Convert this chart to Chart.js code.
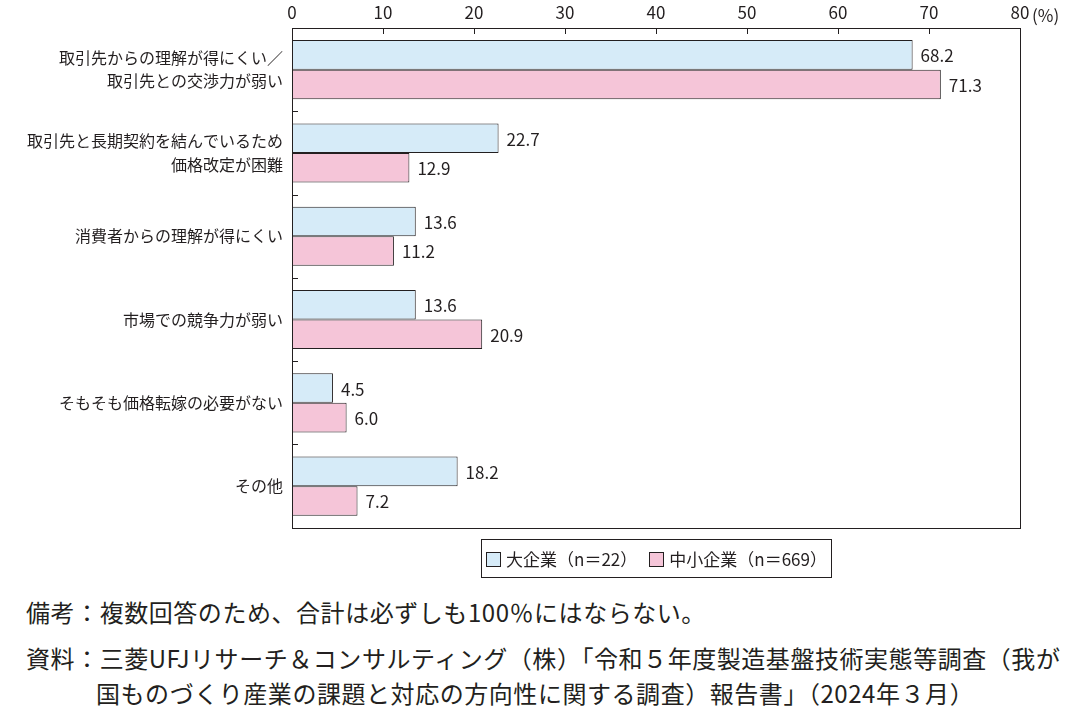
<!DOCTYPE html>
<html lang="ja">
<head>
<meta charset="utf-8">
<script src="https://cdn.jsdelivr.net/npm/chart.js@4/dist/chart.umd.min.js"></script>
<style>
  body { margin: 0; background: #fff; font-family: "Noto Sans CJK JP", sans-serif; color: #231f20; }
  #wrap { position: relative; width: 1084px; height: 723px; }
  #chart { position: absolute; left: 0; top: 0; }
  #legend { position: absolute; left: 481px; top: 539px; width: 349px; height: 37px; border: 1px solid #231f20;
            display: flex; align-items: center; justify-content: center; font-size: 17px; gap: 12px; }
  #legend span.box { display: inline-block; width: 13px; height: 13px; border: 1px solid #231f20; margin-right: 5px; vertical-align: -1px; }
  .note { position: absolute; font-size: 24px; white-space: nowrap; line-height: 30px; letter-spacing: 0.55px; }
</style>
</head>
<body>
<div id="wrap">
  <canvas id="chart" width="1084" height="560"></canvas>
  <div id="legend"></div>
  <div class="note" style="left:26px; top:597px;">備考：複数回答のため、合計は必ずしも100％にはならない。</div>
  <div class="note" style="left:26px; top:643px;">資料：三菱UFJリサーチ＆コンサルティング（株）「令和５年度製造基盤技術実態等調査（我が</div>
  <div class="note" style="left:96px; top:678px;">国ものづくり産業の課題と対応の方向性に関する調査）報告書」（2024年３月）</div>
</div>
<script>
// Categories (top to bottom)
var categories = [
	['取引先からの理解が得にくい／', '取引先との交渉力が弱い'],
	['取引先と長期契約を結んでいるため', '価格改定が困難'],
	'消費者からの理解が得にくい',
	'市場での競争力が弱い',
	'そもそも価格転嫁の必要がない',
	'その他'
];

// Series
var seriesNames = ['大企業（n＝22）', '中小企業（n＝669）'];
var largeFirms = [68.2, 22.7, 13.6, 13.6, 4.5, 18.2];
var smeFirms = [71.3, 12.9, 11.2, 20.9, 6.0, 7.2];
var seriesColors = ['#d6ebf8', '#f5c5d8'];

// Axis
var xTicks = [0, 10, 20, 30, 40, 50, 60, 70, 80];
var xUnit = '(%)';

var FONT = '"Noto Sans CJK JP", sans-serif';
var INK = '#231f20';

// Build the legend
var legend = document.getElementById('legend');
seriesNames.forEach(function(name, i) {
	var item = document.createElement('div');
	item.innerHTML = '<span class="box" style="background:' + seriesColors[i] + '"></span>' + name;
	legend.appendChild(item);
});

// Frame, inner tick marks, value labels
var decorations = {
	id: 'decorations',
	afterDatasetsDraw: function(chart) {
		var ctx = chart.ctx;
		var a = chart.chartArea;
		var xs = chart.scales.x;
		var ys = chart.scales.y;
		ctx.save();
		ctx.strokeStyle = INK;
		ctx.lineWidth = 1;
		ctx.strokeRect(Math.round(a.left) + 0.5, Math.round(a.top) + 0.5, Math.round(a.right - a.left), Math.round(a.bottom - a.top));

		// tick marks on the top edge
		ctx.beginPath();
		xTicks.slice(1, -1).forEach(function(v) {
			var x = Math.round(xs.getPixelForValue(v)) + 0.5;
			ctx.moveTo(x, a.top);
			ctx.lineTo(x, a.top + 6);
		});
		// tick marks between categories on the left edge
		for (var i = 0; i < categories.length - 1; i++) {
			var y = Math.round((ys.getPixelForValue(i) + ys.getPixelForValue(i + 1)) / 2) + 0.5;
			ctx.moveTo(a.left, y);
			ctx.lineTo(a.left + 6, y);
		}
		ctx.stroke();

		// unit after the last tick label
		ctx.fillStyle = INK;
		ctx.font = '17px ' + FONT;
		ctx.textBaseline = 'middle';
		ctx.textAlign = 'left';
		ctx.fillText(xUnit, xs.getPixelForValue(80) + 12, a.top - 12);

		// value labels
		ctx.font = '17px ' + FONT;
		chart.data.datasets.forEach(function(ds, di) {
			chart.getDatasetMeta(di).data.forEach(function(bar, j) {
				ctx.fillText(ds.data[j].toFixed(1), bar.x + 8, bar.y + 1);
			});
		});
		ctx.restore();
	}
};

var chart = new Chart(document.getElementById('chart').getContext('2d'), {
	type: 'bar',
	data: {
		labels: categories,
		datasets: [{
			label: seriesNames[0],
			data: largeFirms,
			backgroundColor: seriesColors[0],
			borderColor: INK,
			borderWidth: 1
		}, {
			label: seriesNames[1],
			data: smeFirms,
			backgroundColor: seriesColors[1],
			borderColor: INK,
			borderWidth: 1
		}]
	},
	options: {
		indexAxis: 'y',
		responsive: false,
		animation: false,
		devicePixelRatio: 1,
		layout: { padding: { top: 0, right: 64, bottom: 4, left: 0 } },
		datasets: { bar: { barPercentage: 1.0, categoryPercentage: 0.71 } },
		plugins: { legend: { display: false }, tooltip: { enabled: false } },
		scales: {
			x: {
				position: 'top',
				min: 0,
				max: 80,
				afterBuildTicks: function(scale) {
					scale.ticks = xTicks.map(function(v) { return { value: v }; });
				},
				afterFit: function(scale) { scale.height = 28; },
				grid: { display: false, drawTicks: false },
				border: { display: false },
				ticks: { color: INK, padding: 5, font: { family: FONT, size: 17 } }
			},
			y: {
				afterFit: function(scale) { scale.width = 292; },
				grid: { display: false, drawTicks: false },
				border: { display: false },
				ticks: { color: INK, padding: 9, font: { family: FONT, size: 16, lineHeight: 1.45 } }
			}
		}
	},
	plugins: [decorations]
});
</script>
</body>
</html>
